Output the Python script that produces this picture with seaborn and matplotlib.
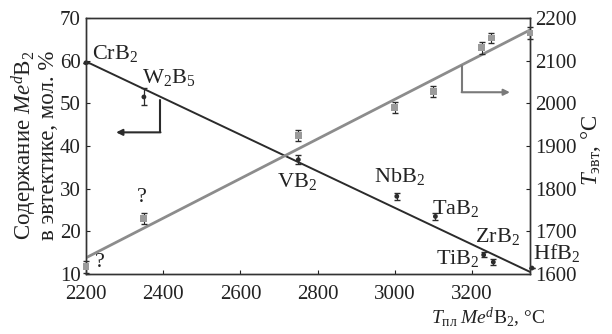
import numpy as np
import seaborn as sns
import matplotlib.pyplot as plt

sns.set_style("ticks")
plt.rcParams['font.family'] = ['Liberation Serif', 'DejaVu Serif']
plt.rcParams['mathtext.fontset'] = 'custom'
plt.rcParams['mathtext.rm'] = 'Liberation Serif'
plt.rcParams['mathtext.it'] = 'Liberation Serif:italic'
plt.rcParams['mathtext.bf'] = 'Liberation Serif:bold'

# eutectic composition (left axis), mol. %
tm_comp = [2200, 2350, 2750, 3005, 3105, 3230, 3255, 3355]
comp = [59.5, 51.5, 36.8, 28.2, 23.5, 14.5, 12.8, 11.4]
comp_err = [0.0, 2.0, 1.0, 0.8, 0.8, 0.6, 0.8, 0.0]

# eutectic temperature (right axis), °C
tm_eut = [2200, 2350, 2750, 3000, 3100, 3225, 3250, 3350]
t_eut = [1617, 1730, 1925, 1990, 2027, 2130, 2153, 2165]
t_eut_err = [14, 12, 13, 12, 13, 14, 12, 14]

# trend lines
line_x = [2200, 3350]
comp_line = [59.8, 10.5]
t_eut_line = [1638, 2172]

labels = ['CrB$_2$', 'W$_2$B$_5$', 'VB$_2$', 'NbB$_2$', 'TaB$_2$', 'TiB$_2$', 'ZrB$_2$', 'HfB$_2$']
label_x = [2216, 2346, 2695, 2945, 3097, 3106, 3208, 3358]
label_y = [61.6, 56.0, 31.6, 32.8, 25.3, 13.7, 18.8, 14.9]

dark = '#2b2b2b'
grey = '#8c8c8c'

fig = plt.figure(figsize=(6.12, 3.34), dpi=100)
ax = fig.add_axes([0.1405, 0.1796, 0.7255, 0.7665])
ax2 = ax.twinx()

sns.lineplot(x=line_x, y=comp_line, color=dark, lw=1.4, ax=ax)
ax.errorbar(tm_comp, comp, yerr=comp_err, fmt='none', ecolor=dark, elinewidth=0.9, capsize=2, clip_on=False)
sns.scatterplot(x=tm_comp, y=comp, color=dark, s=12, edgecolor='none', ax=ax, clip_on=False, zorder=5)

sns.lineplot(x=line_x, y=t_eut_line, color=grey, lw=2.0, ax=ax2)
ax2.errorbar(tm_eut, t_eut, yerr=t_eut_err, fmt='none', ecolor=dark, elinewidth=0.8, capsize=2, clip_on=False)
sns.scatterplot(x=tm_eut, y=t_eut, color='#9a9a9a', marker='s', s=24, edgecolor='none', ax=ax2, clip_on=False, zorder=5)

ax.set_xlim(2200, 3350)
ax.set_ylim(10, 70)
ax2.set_ylim(1600, 2200)
ax.set_xticks([2200, 2400, 2600, 2800, 3000, 3200])
ax.set_yticks([10, 20, 30, 40, 50, 60, 70])
ax2.set_yticks([1600, 1700, 1800, 1900, 2000, 2100, 2200])

for a in (ax, ax2):
    a.tick_params(direction='in', length=3, width=0.8, labelsize=15, pad=4, colors='#222222')
    for s in a.spines.values():
        s.set_color('#333333')
        s.set_linewidth(1.0)
ax.tick_params(axis='x', pad=8)
ax.set_xlabel('')
ax.set_ylabel('')
ax2.set_ylabel('')

for txt, x, y in zip(labels, label_x, label_y):
    ax.text(x, y, txt, fontsize=16, ha='left', va='center', color='#222222', clip_on=False)
ax.text(2345, 27.9, '?', fontsize=16, ha='center', va='center', color='#222222')
ax.text(2236, 12.6, '?', fontsize=16, ha='center', va='center', color='#222222')

# arrows pointing to the axes
ax.plot([2392, 2392], [50.7, 43.2], color=dark, lw=1.5)
ax.annotate('', xy=(2278, 43.2), xytext=(2393, 43.2),
            arrowprops=dict(arrowstyle='-|>', color=dark, lw=1.5, mutation_scale=9, shrinkA=0, shrinkB=0))
ax2.plot([3174, 3174], [2087, 2026], color='#7a7a7a', lw=1.5)
ax2.annotate('', xy=(3298, 2026), xytext=(3173, 2026),
             arrowprops=dict(arrowstyle='-|>', color='#7a7a7a', lw=1.5, mutation_scale=9, shrinkA=0, shrinkB=0))

fig.text(545 / 612, 1 - 318 / 334, r'$T_{\mathrm{пл}}\;Me^d$B$_2$, °C', fontsize=14,
         ha='right', va='center', color='#222222')
fig.text(34 / 612, 1 - 145 / 334, 'Содержание $Me^d$B$_2$\nв эвтектике, мол. %', fontsize=16.5,
         rotation=90, ha='center', va='center', multialignment='center', color='#222222', linespacing=0.95)
fig.text(591 / 612, 1 - 150 / 334, r'$T_{\mathrm{эвт}}$, °C', fontsize=16.5, rotation=90,
         ha='center', va='center', color='#222222')

fig.savefig('out.png', dpi=100)
